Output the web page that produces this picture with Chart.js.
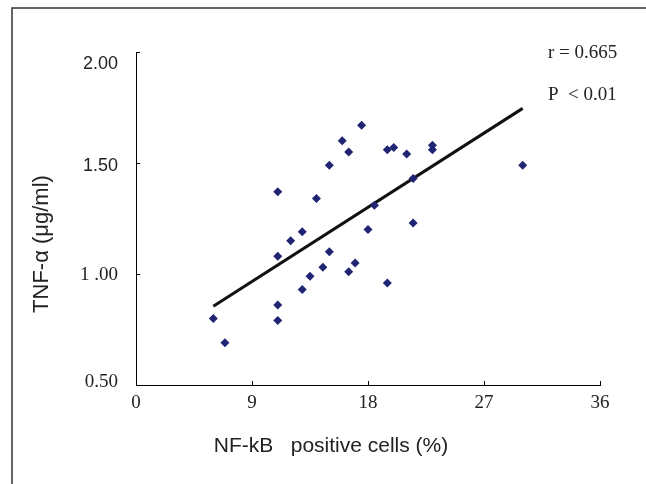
<!DOCTYPE html>
<html lang="en">
<head>
<meta charset="UTF-8">
<title>NF-kB vs TNF-α</title>
<script src="https://cdn.jsdelivr.net/npm/chart.js"></script>
<style>
  body { margin: 0; background: #fff; }
  #wrap { width: 646px; height: 484px; }
</style>
</head>
<body>
<div id="wrap"><canvas id="chart" width="646" height="484"></canvas></div>
<script>
// values
const nfkb = [6.0, 6.9, 11.0, 11.0, 11.0, 11.0, 12.0, 12.9, 12.9, 13.5, 14.0, 14.5, 15.0, 15.0, 16.0,
              16.5, 16.5, 17.0, 17.5, 18.0, 18.5, 19.5, 19.5, 20.0, 21.0, 21.5, 21.5, 23.0, 23.0, 30.0];
const tnf = [0.80, 0.69, 1.37, 1.08, 0.86, 0.79, 1.15, 1.19, 0.93, 0.99, 1.34, 1.03, 1.49, 1.10, 1.60,
             1.55, 1.01, 1.05, 1.67, 1.20, 1.31, 1.56, 0.96, 1.57, 1.54, 1.43, 1.23, 1.58, 1.56, 1.49];
const trendX = [6.0, 30.0];
const trendY = [0.855, 1.746];

const xTicks = [0, 9, 18, 27, 36];
const xTickLabels = ['0', '9', '18', '27', '36'];
const yTicks = [0.5, 1.0, 1.5, 2.0];
const yTickLabels = ['0.50', '1 .00', '1.50', '2.00'];
const yTickSans = [false, false, true, true];
const statLabels = ['r = 0.665', 'P  < 0.01'];
const xTitle = 'NF-kB   positive cells (%)';
const yTitle = 'TNF-α (μg/ml)';

const SANS = '"Liberation Sans", Arial, sans-serif';
const SERIF = '"Liberation Serif", "Times New Roman", serif';

// white page with the figure frame (left + top edges only visible)
const framePlugin = {
    id: 'frame',
    beforeDraw(chart) {
        const ctx = chart.ctx;
        ctx.save();
        ctx.fillStyle = '#fff';
        ctx.fillRect(0, 0, chart.width, chart.height);
        ctx.strokeStyle = '#333';
        ctx.lineWidth = 1.5;
        ctx.beginPath();
        ctx.moveTo(12, chart.height);
        ctx.lineTo(12, 8);
        ctx.lineTo(chart.width, 8);
        ctx.stroke();
        ctx.restore();
    }
};

// tick marks pointing into the plot, plus the mixed-font y labels
const innerTicks = {
    id: 'innerTicks',
    afterDraw(chart) {
        const ctx = chart.ctx;
        const xs = chart.scales.x, ys = chart.scales.y;
        ctx.save();
        ctx.strokeStyle = '#000';
        ctx.lineWidth = 1;
        ctx.beginPath();
        xTicks.forEach(v => {
            const px = Math.round(xs.getPixelForValue(v)) + 0.5;
            ctx.moveTo(px, ys.bottom);
            ctx.lineTo(px, ys.bottom - 4);
        });
        yTicks.forEach(v => {
            const py = Math.round(ys.getPixelForValue(v)) + 0.5;
            ctx.moveTo(xs.left, py);
            ctx.lineTo(xs.left + 4, py);
        });
        ctx.stroke();

        // labels sit a little off their ticks in the original
        const nudge = [-3, 1, 3, 12];
        ctx.fillStyle = '#222';
        ctx.textAlign = 'right';
        ctx.textBaseline = 'middle';
        yTicks.forEach((v, i) => {
            ctx.font = yTickSans[i] ? '18px ' + SANS : '19px ' + SERIF;
            ctx.fillText(yTickLabels[i], ys.left + 118, ys.getPixelForValue(v) + nudge[i]);
        });
        ctx.restore();
    }
};

// axis titles and the r / P note
const textPlugin = {
    id: 'texts',
    afterDraw(chart) {
        const ctx = chart.ctx;
        ctx.save();
        ctx.fillStyle = '#222';
        ctx.textBaseline = 'middle';

        ctx.font = '21px ' + SANS;
        ctx.textAlign = 'center';
        ctx.fillText(xTitle, 331, 446);

        ctx.save();
        ctx.translate(42, 244);
        ctx.rotate(-Math.PI / 2);
        ctx.font = '22px ' + SANS;
        ctx.fillText(yTitle, 0, 0);
        ctx.restore();

        ctx.font = '19px ' + SERIF;
        ctx.textAlign = 'left';
        ctx.fillText(statLabels[0], 548, 53);
        ctx.fillText(statLabels[1], 548, 95);
        ctx.restore();
    }
};

new Chart(document.getElementById('chart'), {
    type: 'scatter',
    data: {
        datasets: [
            {
                label: 'cases',
                data: nfkb.map((x, i) => ({ x: x, y: tnf[i] })),
                pointStyle: 'rectRot',
                pointRadius: 4.5,
                pointHoverRadius: 4.5,
                backgroundColor: '#1f2573',
                borderColor: '#1f2573',
                borderWidth: 0
            },
            {
                label: 'fit',
                type: 'line',
                data: trendX.map((x, i) => ({ x: x, y: trendY[i] })),
                borderColor: '#111',
                borderWidth: 3,
                pointRadius: 0,
                fill: false
            }
        ]
    },
    options: {
        responsive: false,
        animation: false,
        devicePixelRatio: 1,
        layout: { padding: { left: 0, right: 46, top: 52, bottom: 0 } },
        plugins: {
            legend: { display: false },
            tooltip: { enabled: false }
        },
        scales: {
            x: {
                type: 'linear',
                min: 0,
                max: 36,
                afterFit: s => { s.height = 99; },
                afterBuildTicks: s => { s.ticks = xTicks.map(v => ({ value: v })); },
                grid: { drawOnChartArea: false, drawTicks: false },
                border: { display: true, color: '#000', width: 1 },
                ticks: {
                    padding: 7,
                    maxRotation: 0,
                    color: '#222',
                    font: { family: SERIF, size: 19 },
                    callback: (v, i) => xTickLabels[i]
                }
            },
            y: {
                type: 'linear',
                min: 0.5,
                max: 2.0,
                afterFit: s => { s.width = 136; },
                afterBuildTicks: s => { s.ticks = yTicks.map(v => ({ value: v })); },
                grid: { drawOnChartArea: false, drawTicks: false },
                border: { display: true, color: '#000', width: 1 },
                ticks: { display: false }
            }
        }
    },
    plugins: [framePlugin, innerTicks, textPlugin]
});
</script>
</body>
</html>
